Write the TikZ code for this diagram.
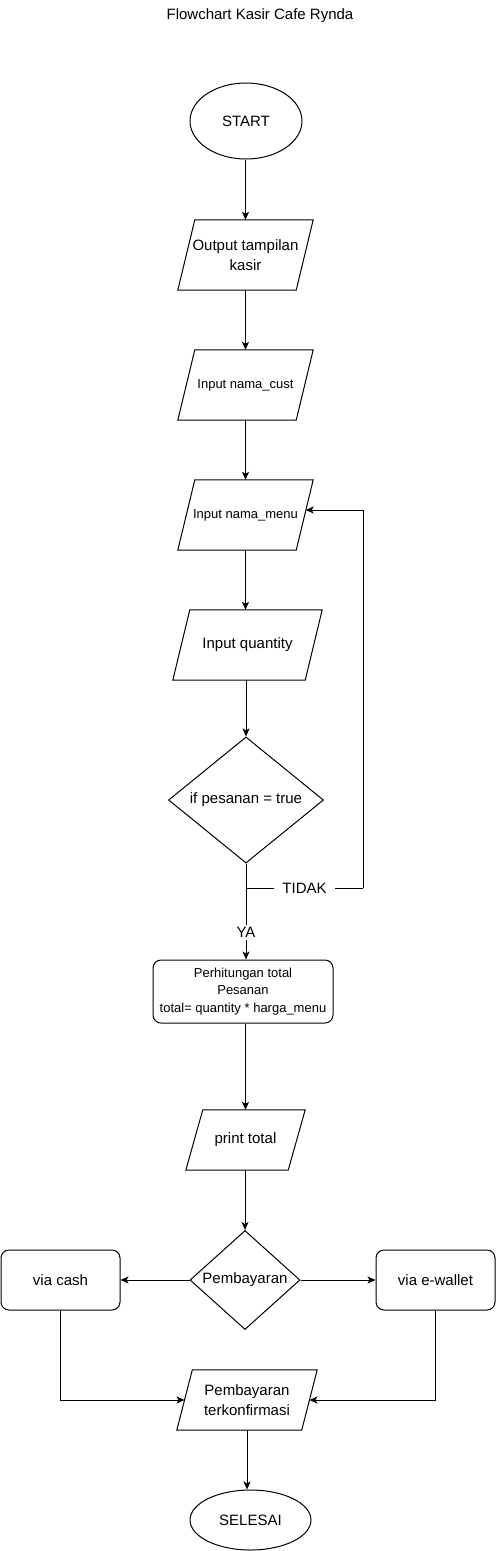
\documentclass[tikz,border=0pt]{standalone}
\usepackage{fontspec}
\setmainfont{Liberation Sans}
\usetikzlibrary{shapes.geometric,arrows.meta,calc}
\newcommand\iodraw[2]{\draw[ln] ($(#1.north west)+(#2,0)$) -- (#1.north east) -- ($(#1.south east)+(-#2,0)$) -- (#1.south west) -- cycle;}
\begin{document}
\begin{tikzpicture}[x=1pt,y=-1pt,
  every node/.style={font=\fontsize{15}{20}\selectfont, align=center, text=black},
  small/.style={font=\fontsize{13}{17.5}\selectfont},
  term/.style={ellipse, draw, line width=1pt, inner sep=0pt},
  io/.style={rectangle, inner sep=0pt},
  dec/.style={diamond, draw, line width=1pt, inner sep=0pt},
  proc/.style={rectangle, rounded corners=8pt, draw, line width=1pt, inner sep=0pt},
  arr/.style={line width=1pt, -{Stealth[length=8pt,width=7pt,inset=2pt]}},
  ln/.style={line width=1pt},
  lab/.style={fill=white, inner sep=2pt}
]
\useasboundingbox (0,0) rectangle (496,1551);

\node (title) at (260,16) {Flowchart Kasir Cafe Rynda};

\node[term, minimum width=112, minimum height=76] (start) at (246,121) {START};
\node[io, minimum width=135, minimum height=70] (out) at (245.5,255) {Output tampilan\\kasir};
\node[io, small, minimum width=135, minimum height=70] (cust) at (245.5,385) {Input nama\_cust};
\node[io, small, minimum width=135, minimum height=70] (menu) at (245.5,515) {Input nama\_menu};
\node[io, minimum width=149, minimum height=70] (qty) at (247.5,645) {Input quantity};
\node[dec, minimum width=155, minimum height=120] (if) at (246,800) {if pesanan = true};
\node[proc, small, minimum width=180, minimum height=63] (calc) at (243,991.5) {Perhitungan total\\Pesanan\\total= quantity * harga\_menu};
\node[io, minimum width=119, minimum height=60] (print) at (245.5,1140) {print total};
\node[dec, minimum width=110, minimum height=80] (pay) at (245,1280) {Pembayaran};
\node[proc, minimum width=119, minimum height=60] (cash) at (60.5,1280) {via cash};
\node[proc, minimum width=119, minimum height=60] (ewal) at (435.5,1280) {via e-wallet};
\node[io, minimum width=140, minimum height=60] (conf) at (247,1400) {Pembayaran\\terkonfirmasi};
\node[term, minimum width=121, minimum height=60] (end) at (250.5,1520) {SELESAI};

\iodraw{out}{17}
\iodraw{cust}{17}
\iodraw{menu}{17}
\iodraw{qty}{17}
\iodraw{print}{17}
\iodraw{conf}{15.5}

\coordinate (j) at (246,888);
\coordinate (jr) at (363,888);
\coordinate (jt) at (363,510);
\coordinate (mr) at ($(menu.east)+(-7.5,-5)$);
\coordinate (cl) at ($(conf.west)+(7.75,0)$);
\coordinate (cr) at ($(conf.east)+(-7.75,0)$);

\draw[arr] (start.south -| out.north) -- (out.north);
\draw[arr] (out.south) -- (cust.north);
\draw[arr] (cust.south) -- (menu.north);
\draw[arr] (menu.south) -- (menu.south |- qty.north);
\draw[arr] (qty.south -| if.north) -- (if.north);
\draw[arr] (if.south) -- node[lab, pos=0.72] (ya) {YA} (if.south |- calc.north);
\draw[ln] (j) -- node[lab, inner xsep=8pt] (tidak) {TIDAK} (jr);
\draw[arr] (jr) -- (jt) -- (mr);
\draw[arr] (calc.south -| print.north) -- (print.north);
\draw[arr] (print.south -| pay.north) -- (pay.north);
\draw[arr] (pay.west) -- (cash.east);
\draw[arr] (pay.east) -- (ewal.west);
\draw[arr] (cash.south) |- (cl);
\draw[arr] (ewal.south) |- (cr);
\draw[arr] (conf.south) -- (conf.south |- end.north);
\end{tikzpicture}
\end{document}
